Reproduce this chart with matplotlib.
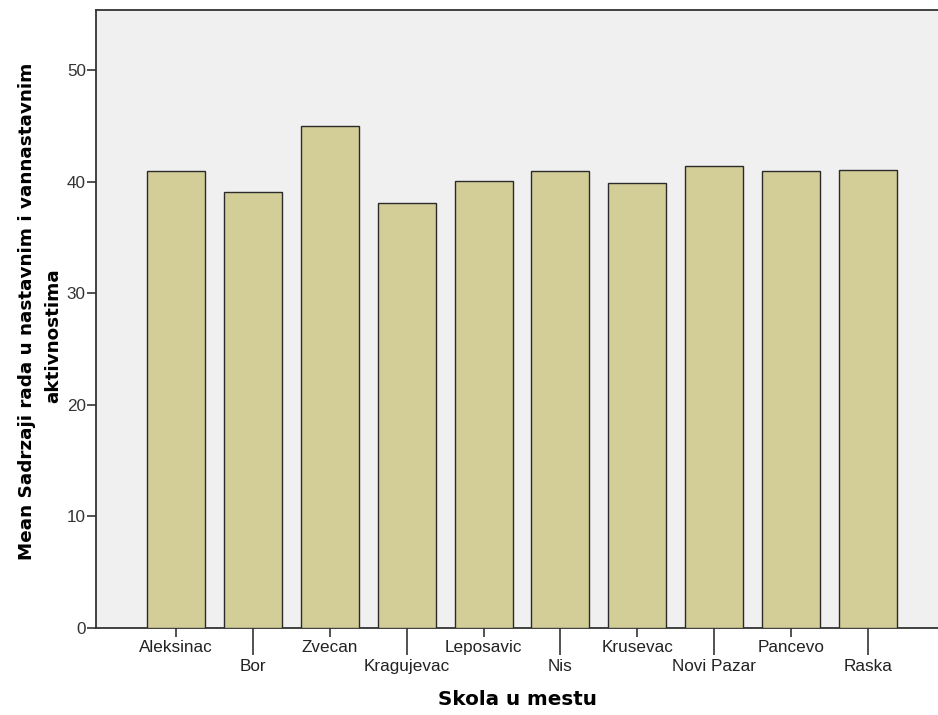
import matplotlib.pyplot as plt
import numpy as np

skole = ['Aleksinac', 'Bor', 'Zvecan', 'Kragujevac', 'Leposavic', 'Nis',
         'Krusevac', 'Novi Pazar', 'Pancevo', 'Raska']
srednje = [41.0, 39.1, 45.0, 38.1, 40.1, 41.0, 39.9, 41.4, 41.0, 41.1]
y_ticks = [0, 10, 20, 30, 40, 50]

fig = plt.figure(figsize=(9.38, 7.15), dpi=100)
ax = fig.add_axes([96 / 938, 1 - 628 / 715, 1 - 96 / 938, 618 / 715])
ax.set_facecolor('#F0F0F0')

x = np.arange(len(skole))
ax.bar(x, srednje, width=0.755, color='#D3CE97', edgecolor='#2b2b2b', linewidth=1.0, zorder=3)

ax.set_xlim(-1.04, 9.91)
ax.set_ylim(0, 55.4)

# alternating short / long ticks like SPSS
ax.set_xticks(x[::2])
ax.set_xticklabels(skole[::2])
ax.set_xticks(x[1::2], minor=True)
ax.set_xticklabels(skole[1::2], minor=True)
ax.tick_params(axis='x', which='major', length=6.3, width=1.2, color='#333333',
               labelsize=12.3, labelcolor='#222222', pad=2.5)
ax.tick_params(axis='x', which='minor', length=19.5, width=1.2, color='#333333',
               labelsize=12.3, labelcolor='#222222', pad=2.5)
for lab in ax.get_xticklabels(which='both'):
    lab.set_family('Liberation Sans')

ax.set_yticks(y_ticks)
ax.tick_params(axis='y', length=6.3, width=1.2, color='#333333', labelsize=12.3,
               labelcolor='#333333', pad=1)
for lab in ax.get_yticklabels():
    lab.set_family('Liberation Sans')

for s in ['left', 'bottom', 'top']:
    ax.spines[s].set_color('#333333')
    ax.spines[s].set_linewidth(1.3)
ax.spines['right'].set_visible(False)

ax.set_xlabel('Skola u mestu', fontsize=14.3, fontweight='bold', family='DejaVu Sans')
ax.xaxis.set_label_coords((517 - 96) / 842, (628 - 690) / 618)

fig.text(27 / 938, 1 - 311 / 715, 'Mean Sadrzaji rada u nastavnim i vannastavnim',
         rotation=90, ha='center', va='center', fontsize=13.2, fontweight='bold',
         family='DejaVu Sans')
fig.text(53 / 938, 1 - 336 / 715, 'aktivnostima',
         rotation=90, ha='center', va='center', fontsize=13.2, fontweight='bold',
         family='DejaVu Sans')

fig.savefig('out.png', dpi=100)
